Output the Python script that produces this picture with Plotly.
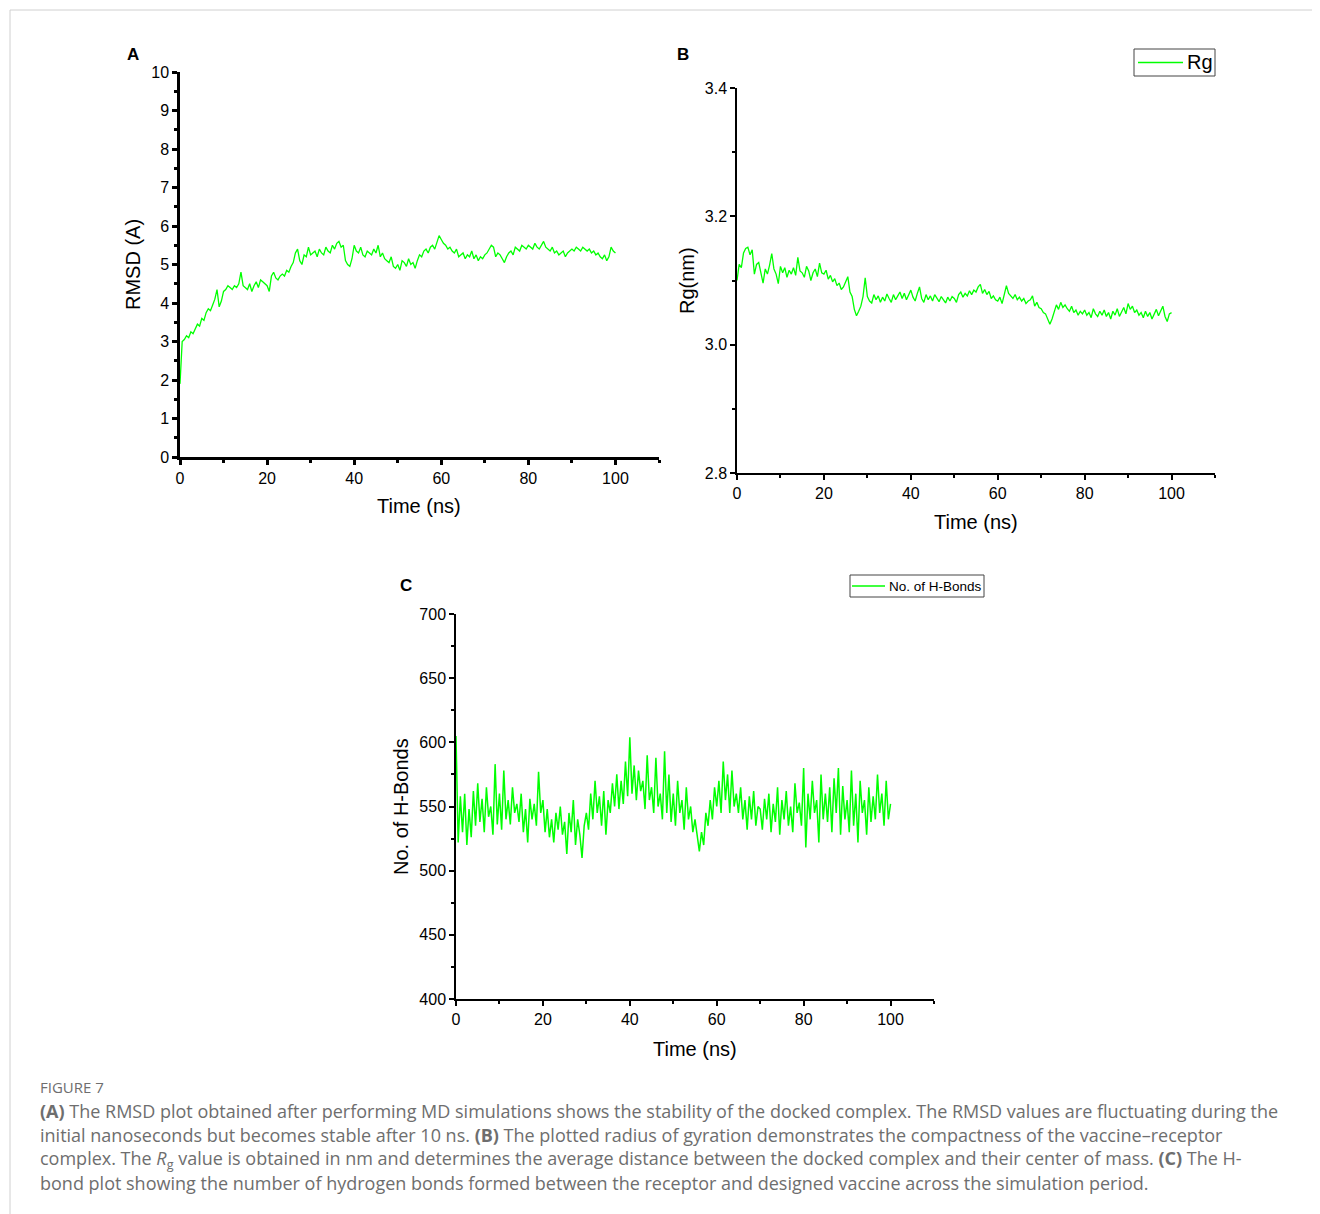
import numpy as np
import plotly.graph_objects as go

# time axis, 0.5 ns sampling
time_ns = np.arange(0, 100.5, 0.5)

# (A) RMSD in Angstrom
rmsd = [
    1.90, 3.00, 3.05, 3.15, 3.10, 3.25, 3.20, 3.35, 3.45, 3.40,
    3.60, 3.55, 3.75, 3.85, 3.80, 3.95, 4.10, 4.35, 3.90, 4.05,
    4.30, 4.35, 4.45, 4.40, 4.35, 4.45, 4.40, 4.50, 4.80, 4.45,
    4.40, 4.35, 4.50, 4.30, 4.45, 4.55, 4.40, 4.60, 4.55, 4.50,
    4.45, 4.30, 4.70, 4.80, 4.65, 4.60, 4.70, 4.75, 4.70, 4.85,
    4.80, 4.95, 5.05, 5.30, 5.40, 5.10, 5.00, 5.25, 5.20, 5.45,
    5.25, 5.30, 5.35, 5.20, 5.40, 5.30, 5.25, 5.45, 5.35, 5.30,
    5.50, 5.40, 5.55, 5.60, 5.45, 5.50, 5.10, 5.00, 4.95, 5.15,
    5.50, 5.35, 5.30, 5.45, 5.25, 5.20, 5.35, 5.30, 5.25, 5.40,
    5.30, 5.50, 5.20, 5.30, 5.15, 5.10, 5.05, 5.20, 4.95, 4.90,
    5.00, 4.85, 5.10, 5.05, 4.95, 5.15, 5.00, 5.05, 4.90, 5.10,
    5.25, 5.20, 5.35, 5.40, 5.30, 5.45, 5.50, 5.40, 5.60, 5.75,
    5.65, 5.55, 5.50, 5.40, 5.45, 5.35, 5.30, 5.40, 5.20, 5.25,
    5.30, 5.15, 5.25, 5.20, 5.35, 5.15, 5.25, 5.10, 5.20, 5.15,
    5.25, 5.30, 5.40, 5.50, 5.45, 5.20, 5.30, 5.25, 5.15, 5.05,
    5.20, 5.30, 5.35, 5.25, 5.45, 5.40, 5.35, 5.50, 5.45, 5.40,
    5.50, 5.45, 5.40, 5.55, 5.45, 5.40, 5.50, 5.60, 5.45, 5.40,
    5.35, 5.45, 5.30, 5.35, 5.25, 5.30, 5.35, 5.20, 5.30, 5.35,
    5.40, 5.35, 5.45, 5.40, 5.35, 5.45, 5.40, 5.35, 5.40, 5.30,
    5.35, 5.25, 5.30, 5.20, 5.15, 5.25, 5.10, 5.20, 5.45, 5.35,
    5.30,
]

# (B) radius of gyration in nm
rg = [
    3.100, 3.125, 3.120, 3.143, 3.150, 3.152, 3.140, 3.148, 3.110, 3.125,
    3.128, 3.112, 3.096, 3.118, 3.110, 3.124, 3.142, 3.118, 3.110, 3.095,
    3.122, 3.112, 3.120, 3.105, 3.116, 3.110, 3.120, 3.108, 3.136, 3.115,
    3.112, 3.105, 3.122, 3.115, 3.100, 3.112, 3.118, 3.106, 3.127, 3.112,
    3.110, 3.116, 3.102, 3.108, 3.098, 3.103, 3.092, 3.096, 3.086, 3.090,
    3.097, 3.106, 3.082, 3.075, 3.055, 3.045, 3.052, 3.060, 3.075, 3.104,
    3.075, 3.068, 3.065, 3.078, 3.070, 3.076, 3.066, 3.074, 3.068, 3.079,
    3.072, 3.066, 3.078, 3.070, 3.076, 3.082, 3.072, 3.080, 3.070, 3.078,
    3.085, 3.074, 3.068, 3.080, 3.090, 3.072, 3.066, 3.078, 3.070, 3.076,
    3.068, 3.078, 3.073, 3.067, 3.075, 3.070, 3.065, 3.074, 3.068, 3.075,
    3.072, 3.066, 3.078, 3.082, 3.074, 3.080, 3.076, 3.084, 3.078, 3.085,
    3.082, 3.090, 3.094, 3.080, 3.086, 3.078, 3.083, 3.072, 3.076, 3.070,
    3.068, 3.074, 3.064, 3.078, 3.092, 3.080, 3.076, 3.072, 3.078, 3.070,
    3.074, 3.068, 3.072, 3.064, 3.068, 3.070, 3.076, 3.060, 3.066, 3.058,
    3.056, 3.050, 3.048, 3.040, 3.032, 3.040, 3.050, 3.062, 3.055, 3.066,
    3.058, 3.062, 3.056, 3.052, 3.060, 3.050, 3.054, 3.046, 3.052, 3.048,
    3.054, 3.046, 3.050, 3.042, 3.056, 3.048, 3.044, 3.052, 3.046, 3.054,
    3.044, 3.050, 3.040, 3.052, 3.046, 3.056, 3.044, 3.050, 3.058, 3.048,
    3.064, 3.055, 3.060, 3.050, 3.054, 3.046, 3.050, 3.042, 3.052, 3.044,
    3.050, 3.040, 3.048, 3.055, 3.045, 3.052, 3.060, 3.044, 3.036, 3.048,
    3.050,
]

# (C) number of hydrogen bonds
hbonds = [
    605, 522, 558, 530, 560, 520, 548, 526, 562, 535,
    568, 538, 556, 530, 565, 542, 550, 528, 583, 536,
    560, 532, 578, 540, 555, 536, 565, 545, 552, 538,
    560, 530, 548, 522, 556, 540, 552, 535, 577, 545,
    555, 530, 548, 526, 540, 522, 545, 532, 550, 528,
    538, 513, 545, 530, 555, 520, 540, 528, 510, 535,
    545, 532, 560, 540, 570, 545, 558, 535, 562, 528,
    555, 545, 568, 550, 575, 548, 570, 552, 585, 558,
    604, 560, 582, 555, 578, 562, 570, 548, 590, 555,
    565, 545, 588, 550, 560, 540, 593, 545, 575, 538,
    560, 535, 570, 545, 555, 532, 565, 540, 550, 530,
    540, 525, 515, 530, 520, 545, 535, 555, 540, 565,
    550, 570, 545, 585, 555, 575, 545, 578, 550, 560,
    545, 565, 540, 555, 532, 558, 540, 562, 535, 550,
    548, 532, 556, 540, 560, 530, 552, 538, 565, 528,
    555, 540, 562, 535, 550, 530, 568, 545, 553, 535,
    580, 518, 560, 540, 570, 545, 555, 522, 575, 540,
    560, 538, 565, 530, 572, 545, 580, 528, 566, 540,
    555, 530, 578, 535, 560, 522, 570, 545, 555, 528,
    565, 538, 558, 540, 575, 545, 560, 535, 570, 540,
    552,
]

x_ticks = [0, 20, 40, 60, 80, 100]

W, H = 1320, 1214
OFF = 8  # the page body adds an 8px margin, so place everything 8px up/left
GREEN = "#00ff00"
FONT = "Liberation Sans, Arial, sans-serif"


def px_x(p):
    return (p - OFF) / W


def px_y(p):
    return 1 - (p - OFF) / H


fig = go.Figure()

fig.add_trace(go.Scatter(x=time_ns, y=rmsd, mode="lines", line=dict(color=GREEN, width=1.3),
                         name="RMSD", showlegend=False, xaxis="x", yaxis="y"))
fig.add_trace(go.Scatter(x=time_ns, y=rg, mode="lines", line=dict(color=GREEN, width=1.3),
                         name="Rg", showlegend=False, xaxis="x2", yaxis="y2"))
fig.add_trace(go.Scatter(x=time_ns, y=hbonds, mode="lines", line=dict(color=GREEN, width=1.5),
                         name="No. of H-Bonds", showlegend=False, xaxis="x3", yaxis="y3"))


def xax(dom, anchor, lw):
    return dict(domain=dom, anchor=anchor, range=[0, 110], tickvals=x_ticks,
                showline=True, linecolor="black", linewidth=lw, ticks="outside",
                ticklen=5, tickwidth=lw, tickcolor="black", automargin=False,
                minor=dict(ticks="outside", ticklen=3, dtick=10, tickcolor="black"),
                showgrid=False, zeroline=False,
                tickfont=dict(family=FONT, size=16, color="black"))


def yax(dom, anchor, rng, dtick, minor, lw, fmt=None):
    d = dict(domain=dom, anchor=anchor, range=rng, dtick=dtick, tick0=rng[0],
             showline=True, linecolor="black", linewidth=lw, ticks="outside",
             ticklen=5, tickwidth=lw, tickcolor="black", automargin=False,
             minor=dict(ticks="outside", ticklen=3, dtick=minor, tickcolor="black"),
             showgrid=False, zeroline=False,
             tickfont=dict(family=FONT, size=16, color="black"))
    if fmt:
        d["tickformat"] = fmt
    return d


annotations = []
shapes = []


def text(x, y, s, size, bold=False, angle=0, color="black", xanchor="center", font=FONT):
    annotations.append(dict(x=px_x(x), y=px_y(y), xref="paper", yref="paper", text=f"<b>{s}</b>" if bold else s,
                            showarrow=False, textangle=angle, xanchor=xanchor, yanchor="middle",
                            borderpad=0, font=dict(family=font, size=size, color=color)))


def legend_box(x0, y0, x1, y1, line_x0, line_x1, label, size):
    ym = (y0 + y1) / 2
    shapes.append(dict(type="rect", xref="paper", yref="paper", x0=px_x(x0), x1=px_x(x1),
                       y0=px_y(y1), y1=px_y(y0), line=dict(color="#444", width=1), fillcolor="white"))
    shapes.append(dict(type="line", xref="paper", yref="paper", x0=px_x(line_x0), x1=px_x(line_x1),
                       y0=px_y(ym), y1=px_y(ym), line=dict(color=GREEN, width=1.5)))
    text(line_x1 + 3, ym, label, size, xanchor="left")


# panel letters
text(133, 54, "A", 17, bold=True)
text(683, 54, "B", 17, bold=True)
text(406, 585, "C", 17, bold=True)

# axis titles
text(133, 265, "RMSD (A)", 20, angle=-90)
text(419, 506, "Time (ns)", 20)
text(687, 281, "Rg(nm)", 20, angle=-90)
text(976, 522, "Time (ns)", 20)
text(401, 807, "No. of H-Bonds", 20, angle=-90)
text(695, 1049, "Time (ns)", 20)

# legends
legend_box(1134, 49, 1215, 76, 1138, 1183, "Rg", 20)
legend_box(850, 575, 984, 597, 852, 885, "No. of H-Bonds", 13.5)

# caption
CAP = "Open Sans, Noto Sans, sans-serif"
CAPC = "#6e6e6e"
text(39, 1087, "FIGURE 7", 15, color=CAPC, xanchor="left", font=CAP)
cap_lines = [
    "<b>(A)</b> The RMSD plot obtained after performing MD simulations shows the stability of the docked complex. The RMSD values are fluctuating during the",
    "initial nanoseconds but becomes stable after 10 ns. <b>(B)</b> The plotted radius of gyration demonstrates the compactness of the vaccine\u2013receptor",
    "complex. The <i>R</i><sub>g</sub> value is obtained in nm and determines the average distance between the docked complex and their center of mass. <b>(C)</b> The H-",
    "bond plot showing the number of hydrogen bonds formed between the receptor and designed vaccine across the simulation period.",
]
for i, line in enumerate(cap_lines):
    text(39, 1111 + 24 * i, line, 18, color=CAPC, xanchor="left", font=CAP)

# light frame around the figure
shapes.append(dict(type="line", xref="paper", yref="paper", x0=px_x(10), x1=1, y0=px_y(10), y1=px_y(10),
                   line=dict(color="#d0d0d0", width=1)))
shapes.append(dict(type="line", xref="paper", yref="paper", x0=px_x(10), x1=px_x(10), y0=px_y(10), y1=0,
                   line=dict(color="#d0d0d0", width=1)))

fig.update_layout(
    width=W, height=H,
    margin=dict(l=0, r=0, t=0, b=0, autoexpand=False),
    paper_bgcolor="white", plot_bgcolor="white",
    showlegend=False,
    xaxis=xax([px_x(180), px_x(659)], "y", 2.5),
    yaxis=yax([px_y(457), px_y(72)], "x", [0, 10], 1, 0.5, 2.5),
    xaxis2=xax([px_x(737), px_x(1215)], "y2", 1.5),
    yaxis2=yax([px_y(473), px_y(88)], "x2", [2.8, 3.4], 0.2, 0.1, 1.5, ".1f"),
    xaxis3=xax([px_x(456), px_x(934)], "y3", 1.5),
    yaxis3=yax([px_y(999), px_y(614)], "x3", [400, 700], 50, 25, 1.5),
    annotations=annotations,
    shapes=shapes,
)

fig.write_html("out.html")
